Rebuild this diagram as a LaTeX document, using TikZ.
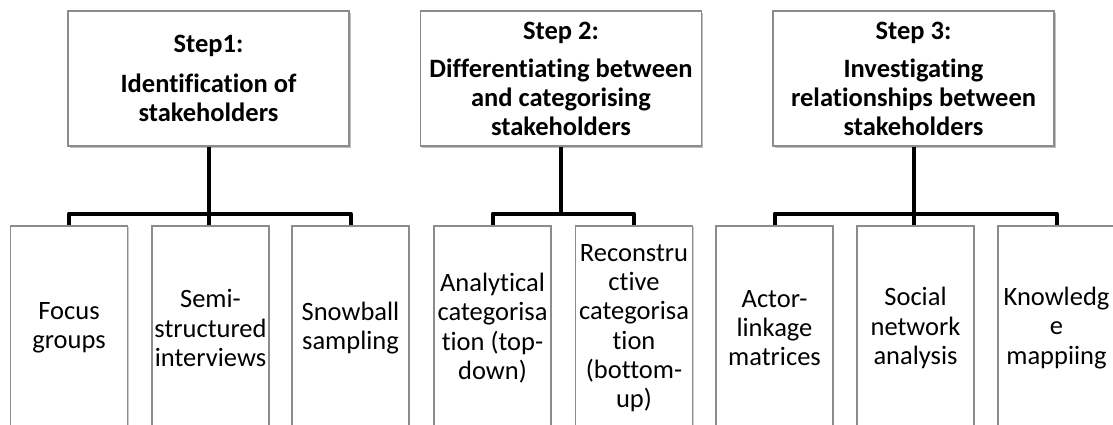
\documentclass[tikz,border=0pt]{standalone}
\usepackage{fontspec}
\setmainfont{Carlito}[Ligatures=NoCommon]
\usetikzlibrary{shadows,calc}
\definecolor{boxgray}{HTML}{8C8C8C}
\tikzset{
  stepbox/.style={draw=boxgray, line width=1.1pt, fill=white,
    minimum width=281pt, minimum height=135pt, inner sep=0pt,
    align=center, font=\bfseries\fontsize{26.5}{29}\selectfont,
    drop shadow={shadow xshift=1.5pt, shadow yshift=-2pt, opacity=0.25, fill=black}},
  leafbox/.style={draw=boxgray, line width=1.1pt, fill=white,
    minimum width=117pt, minimum height=204pt, inner sep=0pt,
    align=center, font=\fontsize{26.5}{29.3}\selectfont,
    drop shadow={shadow xshift=1.2pt, shadow yshift=-1pt, opacity=0.2, fill=black}},
  link/.style={line width=4pt, line join=round, draw=black}
}
\begin{document}
\begin{tikzpicture}[x=1pt,y=-1pt]
\clip (0,0) rectangle (1113,425);
\fill[white] (0,0) rectangle (1113,425);

% top-level steps
\node[stepbox] (s1) at (208.5,78.5) {Step1:\\[11pt]Identification of\\stakeholders};
\node[stepbox] (s2) at (561,78.5) {Step 2:\\[9pt]Differentiating between\\and categorising\\stakeholders};
\node[stepbox] (s3) at (913.5,78.5) {Step 3:\\[9pt]Investigating\\relationships between\\stakeholders};

% methods under each step
\node[leafbox] (a1) at (69,328) {Focus\\groups};
\node[leafbox] (b1) at (210.5,328) {Semi-\\structured\\interviews};
\node[leafbox] (c1) at (350.5,328) {Snowball\\sampling};

\node[leafbox] (a2) at (492.5,328) {Analytical\\categorisa\\tion (top-\\down)};
\node[leafbox] (b2) at (634,328) {Reconstru\\ctive\\categorisa\\tion\\(bottom-\\up)};

\node[leafbox] (a3) at (774.5,328) {Actor-\\linkage\\matrices};
\node[leafbox] (b3) at (915.5,328) {Social\\network\\analysis};
\node[leafbox] (c3) at (1056.5,328) {Knowledg\\e\\mappiing};

% junction points of the tree connectors
\path (s1.south) ++(0,67) coordinate (j1);
\path (s2.south) ++(0,67) coordinate (j2);
\path (s3.south) ++(0,67) coordinate (j3);

% connectors
\draw[link] (s1.south) -- (j1);
\draw[link] (a1.north) |- (j1) -| (c1.north);
\draw[link] (j1) -- (j1 |- b1.north);

\draw[link] (s2.south) -- (j2);
\draw[link] (a2.north) |- (j2) -| (b2.north);

\draw[link] (s3.south) -- (j3);
\draw[link] (a3.north) |- (j3) -| (c3.north);
\draw[link] (j3) -- (j3 |- b3.north);
\end{tikzpicture}
\end{document}
